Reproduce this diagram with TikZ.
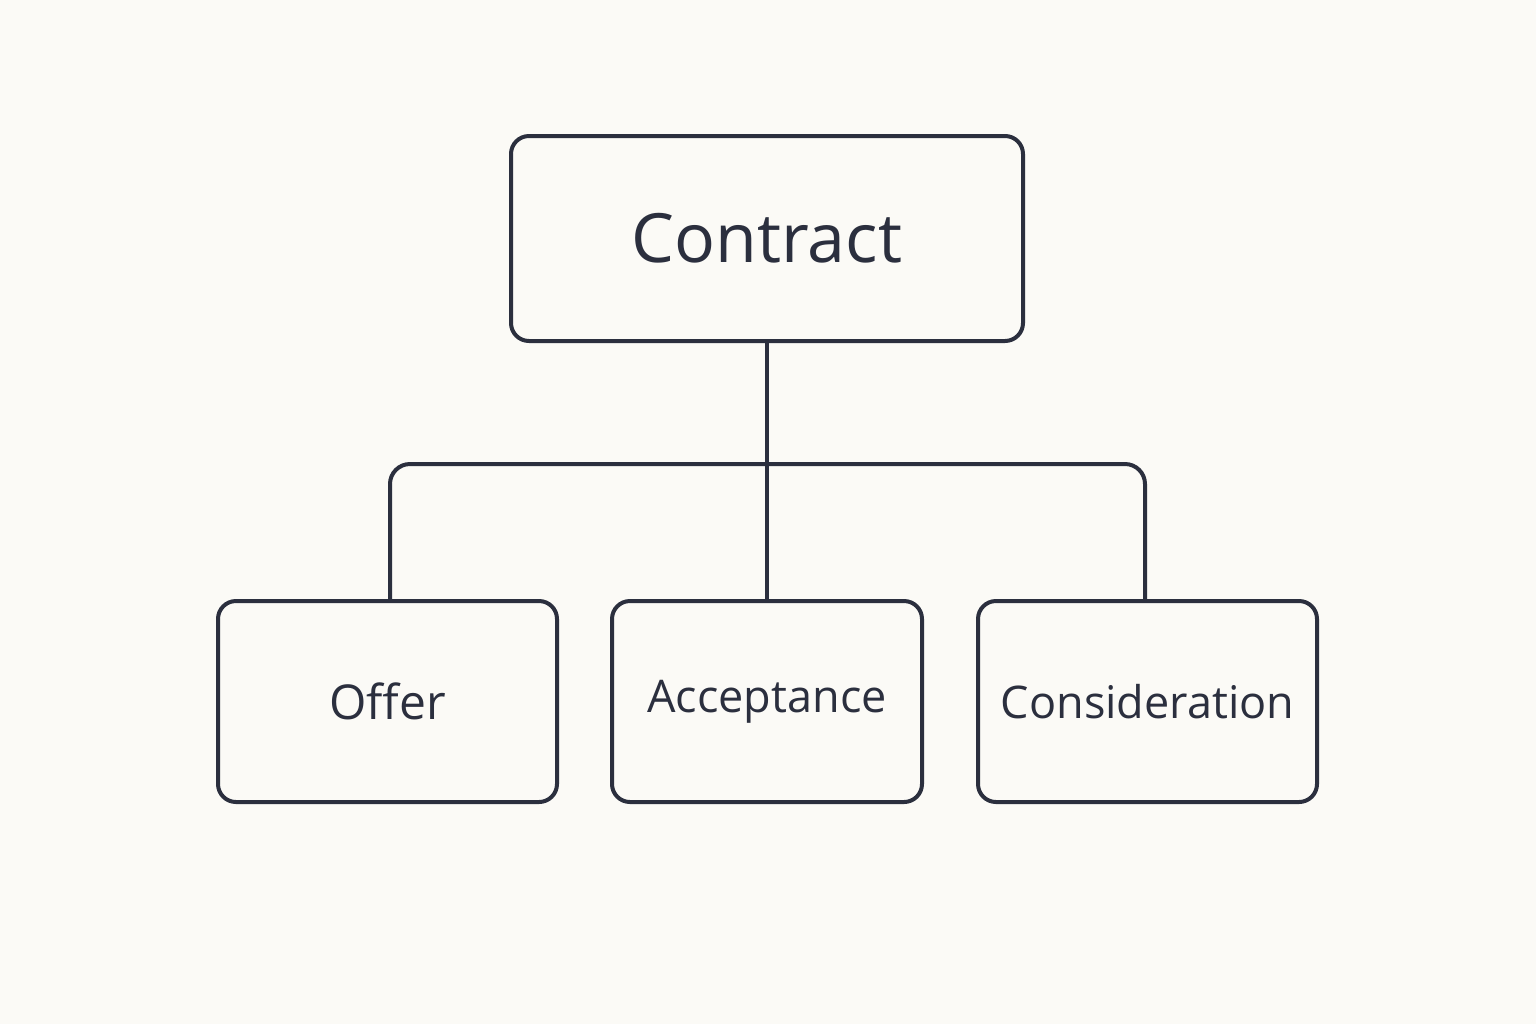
\documentclass[tikz,border=0pt]{standalone}
\usepackage{fontspec}
\setmainfont{Open Sans}
\begin{document}
\begin{tikzpicture}[x=0.5pt,y=-0.5pt,
  box/.style={draw=ink,line width=2pt,rounded corners=9pt,text=ink,inner sep=0pt},
  link/.style={draw=ink,line width=2pt,rounded corners=10pt}]
\definecolor{ink}{HTML}{2B2F3E}
\definecolor{bg}{HTML}{FBFAF6}
\fill[bg] (0,0) rectangle (1536,1024);
\useasboundingbox (0,0) rectangle (1536,1024);
\node[box,minimum width=256pt,minimum height=102.5pt,font=\fontsize{34}{40}\selectfont] (contract) at (767,238.5) {Contract};
\node[box,minimum width=169.5pt,minimum height=100.5pt,font=\fontsize{24}{28}\selectfont] (offer) at (387.5,701.5) {Offer};
\node[box,minimum width=155pt,minimum height=100.5pt,font=\fontsize{22.5}{28}\selectfont] (accept) at (767,701.5) {Acceptance};
\node[box,minimum width=169.5pt,minimum height=100.5pt,font=\fontsize{22.5}{28}\selectfont] (consid) at (1147.5,701.5) {Consideration};
\coordinate (bar) at (767,464);
\draw[link] (contract.south) -- (accept.north);
\draw[link] (offer.north -| 390,0) -- (390,464) -- (1145,464) -- (consid.north -| 1145,0);
\end{tikzpicture}
\end{document}
